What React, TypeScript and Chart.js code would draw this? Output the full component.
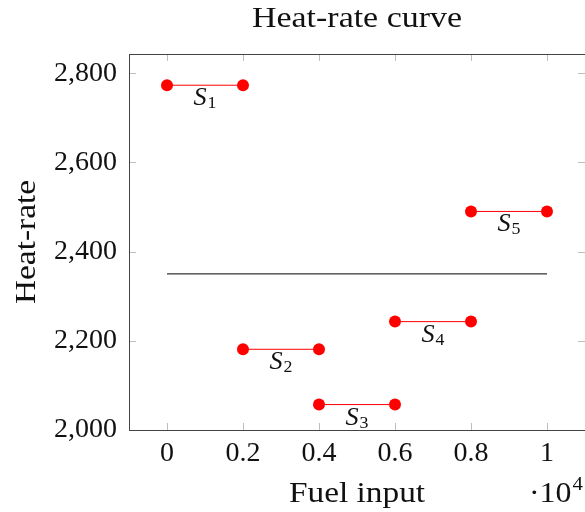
import React, { useEffect, useRef } from "react";
import { Chart, registerables } from "chart.js";

Chart.register(...registerables);

const segmentNames = ["1", "2", "3", "4", "5"];
const segmentStartX = [0, 2000, 4000, 6000, 8000];
const segmentEndX = [2000, 4000, 6000, 8000, 10000];
const segmentHeatRate = [2773, 2181, 2057, 2243, 2490];
const averageLineX = [0, 10000];
const averageLineY = [2350, 2350];
const xTickValues = [0, 2000, 4000, 6000, 8000, 10000];
const yTickValues = [2000, 2200, 2400, 2600, 2800];

const FONT = "'Liberation Serif', 'DejaVu Serif', serif";

function drawText(
  ctx: CanvasRenderingContext2D,
  text: string,
  x: number,
  y: number,
  size: number,
  align: "left" | "center" | "right",
  italic = false,
  stretch = 1.12
) {
  ctx.save();
  ctx.font = `${italic ? "italic " : ""}${size}px ${FONT}`;
  ctx.textBaseline = "alphabetic";
  ctx.textAlign = align;
  ctx.translate(x, y);
  ctx.scale(stretch, 1);
  ctx.fillText(text, 0, 0);
  ctx.restore();
}

function measure(ctx: CanvasRenderingContext2D, text: string, size: number, italic = false, stretch = 1.12) {
  ctx.save();
  ctx.font = `${italic ? "italic " : ""}${size}px ${FONT}`;
  const w = ctx.measureText(text).width * stretch;
  ctx.restore();
  return w;
}

export default function App() {
  const ref = useRef<HTMLCanvasElement | null>(null);

  useEffect(() => {
    document.body.style.margin = "0";
    const canvas = ref.current!;
    const datasets: any[] = segmentHeatRate.map((y, i) => ({
      label: "S" + segmentNames[i],
      data: [
        { x: segmentStartX[i], y },
        { x: segmentEndX[i], y },
      ],
      showLine: true,
      borderColor: "#ff0000",
      backgroundColor: "#ff0000",
      borderWidth: 1,
      pointRadius: 6,
      pointBorderWidth: 0,
      pointBackgroundColor: "#ff0000",
    }));
    datasets.push({
      label: "avg",
      data: averageLineX.map((x, i) => ({ x, y: averageLineY[i] })),
      showLine: true,
      borderColor: "#000000",
      borderWidth: 1,
      pointRadius: 0,
    });

    const decor = {
      id: "decor",
      beforeDatasetsDraw(chart: any) {
        const { ctx, chartArea: a, scales } = chart;
        ctx.save();
        ctx.strokeStyle = "#bdbdbd";
        ctx.lineWidth = 1;
        const tl = 7;
        xTickValues.forEach((v) => {
          const px = Math.round(scales.x.getPixelForValue(v)) + 0.5;
          ctx.beginPath();
          ctx.moveTo(px, a.bottom);
          ctx.lineTo(px, a.bottom - tl);
          ctx.moveTo(px, a.top);
          ctx.lineTo(px, a.top + tl);
          ctx.stroke();
        });
        yTickValues.forEach((v) => {
          const py = Math.round(scales.y.getPixelForValue(v)) + 0.5;
          ctx.beginPath();
          ctx.moveTo(a.left, py);
          ctx.lineTo(a.left + tl, py);
          ctx.moveTo(a.right, py);
          ctx.lineTo(a.right - tl, py);
          ctx.stroke();
        });
        ctx.restore();
      },
      afterDatasetsDraw(chart: any) {
        const { ctx, chartArea: a, scales } = chart;
        ctx.save();
        // frame
        ctx.strokeStyle = "#444";
        ctx.lineWidth = 1;
        ctx.strokeRect(
          Math.round(a.left) + 0.5,
          Math.round(a.top) + 0.5,
          Math.round(a.right - a.left),
          Math.round(a.bottom - a.top)
        );
        ctx.fillStyle = "#111";
        // segment labels
        segmentHeatRate.forEach((y, i) => {
          const cx = scales.x.getPixelForValue((segmentStartX[i] + segmentEndX[i]) / 2);
          const base = scales.y.getPixelForValue(y) + 20;
          const sw = measure(ctx, "S", 25, true, 1.05);
          const nw = measure(ctx, segmentNames[i], 17, false, 1.05);
          const start = cx - (sw + nw + 1) / 2;
          drawText(ctx, "S", start, base, 25, "left", true, 1.05);
          drawText(ctx, segmentNames[i], start + sw + 1, base + 3, 17, "left", false, 1.05);
        });
        const cxArea = (a.left + a.right) / 2;
        // title
        drawText(ctx, "Heat-rate curve", cxArea, 27, 29, "center", false, 1.17);
        // x title
        drawText(ctx, "Fuel input", cxArea, 502, 29, "center", false, 1.15);
        // y title
        ctx.save();
        ctx.translate(35, (a.top + a.bottom) / 2);
        ctx.rotate(-Math.PI / 2);
        drawText(ctx, "Heat-rate", 0, 0, 29, "center", false, 1.15);
        ctx.restore();
        // exponent
        drawText(ctx, "\u00b710", 529, 502, 29, "left", false, 1.1);
        const w = measure(ctx, "\u00b710", 29, false, 1.1);
        drawText(ctx, "4", 529 + w + 1, 490, 19, "left", false, 1.1);
        ctx.restore();
      },
    };

    const chart = new Chart(canvas, {
      type: "scatter",
      data: { datasets },
      options: {
        animation: false,
        responsive: false,
        layout: { autoPadding: false, padding: { top: 54, right: 0, left: 0, bottom: 0 } },
        plugins: { legend: { display: false }, tooltip: { enabled: false }, title: { display: false } },
        scales: {
          x: {
            type: "linear",
            min: -1000,
            max: 11000,
            afterFit: (s: any) => {
              s.height = 82;
              s.paddingLeft = 0;
              s.paddingRight = 0;
            },
            afterBuildTicks: (s: any) => {
              s.ticks = xTickValues.map((v) => ({ value: v }));
            },
            grid: { display: false, drawTicks: false },
            border: { display: false },
            ticks: {
              padding: 7,
              color: "#111",
              font: { family: FONT, size: 28 },
              maxRotation: 0,
              autoSkip: false,
              callback: (v: any) => String(Number(v) / 10000),
            },
          },
          y: {
            type: "linear",
            min: 2000,
            max: 2843,
            afterFit: (s: any) => {
              s.width = 129;
              s.paddingTop = 0;
              s.paddingBottom = 0;
            },
            afterBuildTicks: (s: any) => {
              s.ticks = yTickValues.map((v) => ({ value: v }));
            },
            grid: { display: false, drawTicks: false },
            border: { display: false },
            ticks: {
              padding: 12,
              color: "#111",
              font: { family: FONT, size: 28 },
              autoSkip: false,
              callback: (v: any) => Number(v).toLocaleString("en-US"),
            },
          },
        },
      },
      plugins: [decor],
    });
    return () => chart.destroy();
  }, []);

  return <canvas ref={ref} width={585} height={512} style={{ display: "block" }} />;
}
